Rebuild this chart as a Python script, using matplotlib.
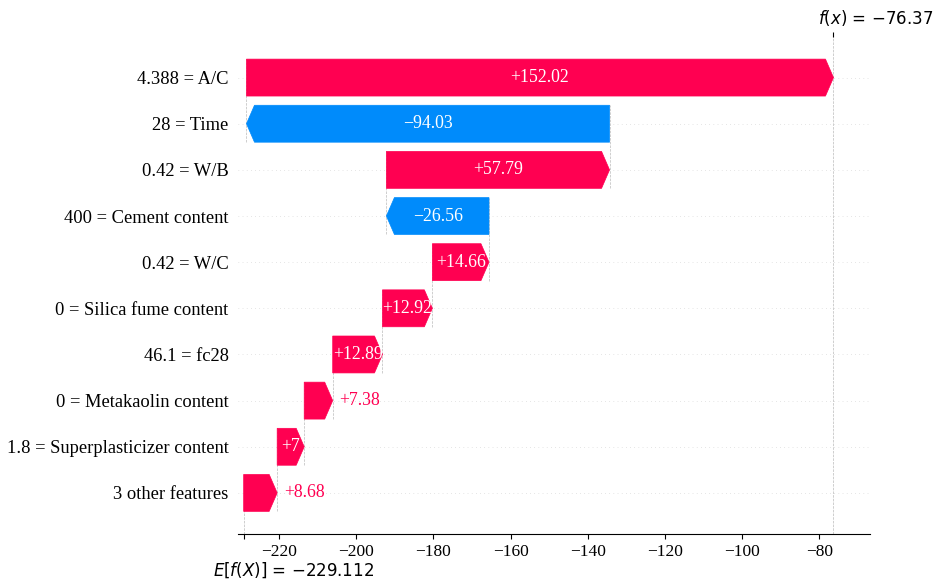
import matplotlib
matplotlib.use("Agg")
import matplotlib.pyplot as plt
import numpy as np

# ---- data (top row first) ----
feature_names = ["A/C", "Time", "W/B", "Cement content", "W/C",
                 "Silica fume content", "fc28", "Metakaolin content",
                 "Superplasticizer content"]
feature_values = ["4.388", "28", "0.42", "400", "0.42", "0", "46.1", "0", "1.8"]
shap_values = [152.02, -94.03, 57.79, -26.56, 14.66, 12.92, 12.89, 7.38, 7.00]
other_label = "3 other features"
other_value = 8.68
base_value = -229.112
fx_value = -76.37

RED = "#ff0051"
BLUE = "#008bfb"

plt.rcParams['font.family'] = ['Liberation Serif', 'DejaVu Serif']
plt.rcParams['mathtext.fontset'] = 'dejavusans'


def fmt(v, f):
    s = f % v
    s = s.rstrip('0').rstrip('.') if '.' in s else s
    return s.replace('-', '\u2212')


fig = plt.figure(figsize=(9.36, 5.85), dpi=100)
ax = fig.add_axes([0.2546, 0.0872, 0.6749, 0.8504])

n = len(feature_names) + 1
vals = list(shap_values) + [other_value]
labels = [v + " = " + nm for v, nm in zip(feature_values, feature_names)] + [other_label]
rows = list(range(n - 1, -1, -1))

lefts = [0.0] * n
loc = base_value
for k in range(n - 1, -1, -1):
    lefts[k] = loc
    loc += vals[k]

ax.set_xlim(-230.5, -66.9)
ax.set_ylim(-0.89, n - 1 + 0.89)

bar_width = 0.8
head_length = 0.08
TXT = 12.8
xlen = ax.get_xlim()[1] - ax.get_xlim()[0]
bbox = ax.get_window_extent().transformed(fig.dpi_scale_trans.inverted())
bbox_to_xscale = xlen / bbox.width
hl_scaled = bbox_to_xscale * head_length
renderer = fig.canvas.get_renderer()

for k in range(n):
    v = vals[k]
    y = rows[k]
    dist = abs(v)
    if v >= 0:
        start = lefts[k]
        arr = ax.arrow(start, y, max(dist - hl_scaled, 1e-6), 0,
                       head_length=min(dist, hl_scaled), color=RED,
                       width=bar_width, head_width=bar_width, lw=0.5)
        t = ax.text(start + 0.5 * dist, y, fmt(v, '%+0.02f'), ha='center', va='center',
                    color='white', fontsize=TXT)
        if t.get_window_extent(renderer=renderer).width > arr.get_window_extent(renderer=renderer).width:
            t.remove()
            ax.text(start + (5 / 72) * bbox_to_xscale + dist, y, fmt(v, '%+0.02f'),
                    ha='left', va='center', color=RED, fontsize=TXT)
    else:
        start = lefts[k]
        arr = ax.arrow(start, y, -max(dist - hl_scaled, 1e-6), 0,
                       head_length=min(dist, hl_scaled), color=BLUE,
                       width=bar_width, head_width=bar_width, lw=0.5)
        t = ax.text(start - 0.5 * dist, y, fmt(v, '%+0.02f'), ha='center', va='center',
                    color='white', fontsize=TXT)
        if t.get_window_extent(renderer=renderer).width > arr.get_window_extent(renderer=renderer).width:
            t.remove()
            ax.text(start - (5 / 72) * bbox_to_xscale - dist, y, fmt(v, '%+0.02f'),
                    ha='right', va='center', color=BLUE, fontsize=TXT)

for k in range(n - 1):
    x = lefts[k]
    y = rows[k]
    ax.plot([x, x], [y - 1 - 0.4, y + 0.4], color="#bbbbbb", linestyle="--",
            linewidth=0.5, zorder=-1)

for i in range(n):
    ax.axhline(i, color="#cccccc", lw=0.5, dashes=(1, 5), zorder=-1)

ax.axvline(base_value, 0, 1 / n, color="#bbbbbb", linestyle="--", linewidth=0.5, zorder=-1)
ax.axvline(fx_value, 0, 1, color="#bbbbbb", linestyle="--", linewidth=0.5, zorder=-1)

ax.set_yticks(rows)
ax.set_yticklabels(labels, fontsize=13.3, color='black')
ax.xaxis.set_ticks_position('bottom')
ax.yaxis.set_ticks_position('none')
for s in ['right', 'top', 'left']:
    ax.spines[s].set_visible(False)
ax.tick_params(axis='x', labelsize=12.5)

ax2 = ax.twiny()
ax2.set_xlim(ax.get_xlim())
ax2.xaxis.set_ticks_position('bottom')
ax2.set_xticks([base_value])
ax2.set_xticklabels([""])
for s in ['right', 'top', 'left', 'bottom']:
    ax2.spines[s].set_visible(False)
ax.annotate("$E[f(X)]$ = " + ("%0.03f" % base_value).replace('-', '\u2212'),
            xy=(base_value, 0), xycoords=('data', 'axes fraction'),
            xytext=(-22, -26), textcoords='offset points',
            ha='left', va='center', fontsize=12, family='DejaVu Sans')

ax3 = ax.twiny()
ax3.set_xlim(ax.get_xlim())
ax3.xaxis.set_ticks_position('top')
ax3.set_xticks([fx_value])
ax3.set_xticklabels([""])
for s in ['right', 'top', 'left', 'bottom']:
    ax3.spines[s].set_visible(False)
ax.annotate("$f(x)$ = " + ("%0.02f" % fx_value).replace('-', '\u2212'),
            xy=(fx_value, 1), xycoords=('data', 'axes fraction'),
            xytext=(-11, 13.5), textcoords='offset points',
            ha='left', va='center', fontsize=12, family='DejaVu Sans')

fig.savefig("out.png", dpi=100)
